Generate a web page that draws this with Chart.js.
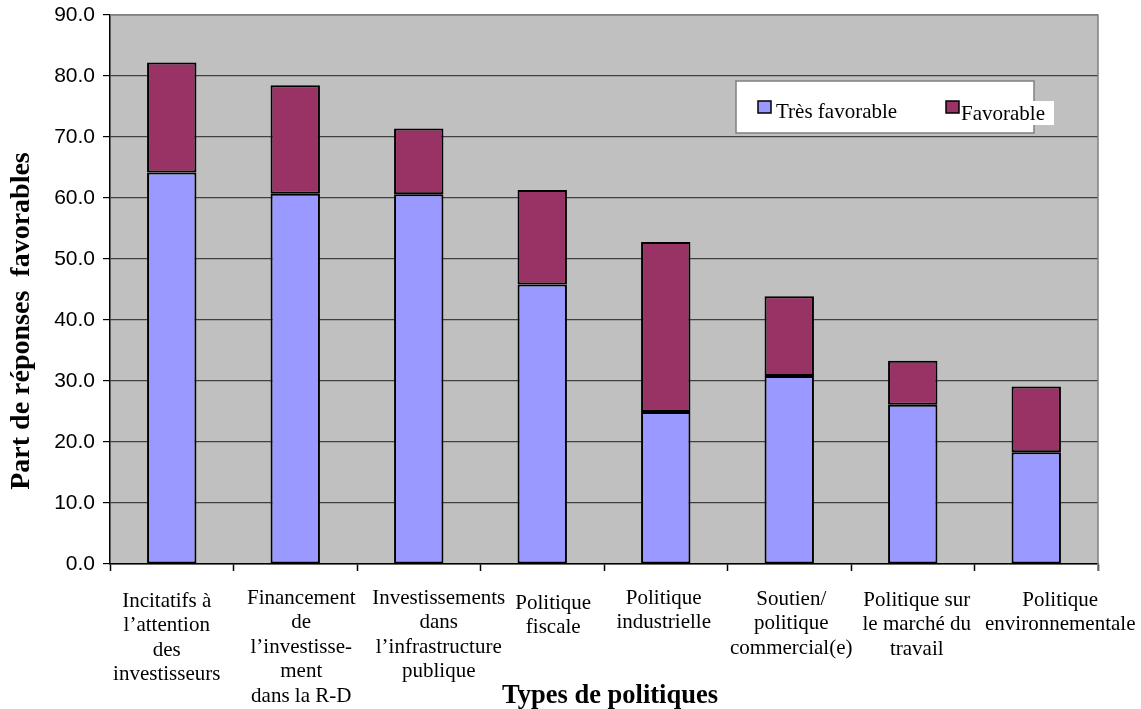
<!DOCTYPE html>
<html>
<head>
<meta charset="utf-8">
<script src="https://cdn.jsdelivr.net/npm/chart.js@4/dist/chart.umd.min.js"></script>
<style>
  html, body { margin: 0; padding: 0; background: #ffffff; }
  #wrap { width: 1141px; height: 709px; position: relative; }
</style>
</head>
<body>
<div id="wrap"><canvas id="chart" width="1141" height="709"></canvas></div>
<script>
// Types de politiques (multi-line axis labels)
const categories = [
  ["Incitatifs à", "l’attention", "des", "investisseurs"],
  ["Financement", "de", "l’investisse-", "ment", "dans la R-D"],
  ["Investissements", "dans", "l’infrastructure", "publique"],
  ["Politique", "fiscale"],
  ["Politique", "industrielle"],
  ["Soutien/", "politique", "commercial(e)"],
  ["Politique sur", "le marché du", "travail"],
  ["Politique", "environnementale"]
];

// Part des réponses (%)
const tresFavorable = [64.2, 60.7, 60.6, 45.8, 24.9, 30.8, 26.1, 18.3];
const favorable     = [18.0, 17.8, 10.8, 15.5, 27.9, 13.1,  7.2, 10.8];

const seriesLabels = ["Très favorable", "Favorable"];
const yTicks = [0, 10, 20, 30, 40, 50, 60, 70, 80, 90];
const xTitle = "Types de politiques";
const yTitle = "Part de réponses  favorables";

// Hand placement of the category text blocks (pixels from the category centre)
const labelShiftX = [-5, 6, 20, 11, -2, 2, 4, 24];
const labelShiftY = [2, -1, -1, 4, -1, 0, 1, 1];

const SERIF = "'Times New Roman', 'Liberation Serif', serif";
const SANS = "Arial, 'Liberation Sans', sans-serif";

// Gray plotting area plus the light frame on the top and right sides
const plotBackground = {
  id: 'plotBackground',
  beforeDraw(chart) {
    const { ctx, chartArea: a } = chart;
    ctx.save();
    ctx.fillStyle = '#c0c0c0';
    ctx.fillRect(a.left, a.top, a.right - a.left, a.bottom - a.top);
    ctx.restore();
  },
  afterDatasetsDraw(chart) {
    const { ctx, chartArea: a } = chart;
    ctx.save();
    ctx.strokeStyle = '#808080';
    ctx.lineWidth = 1.5;
    ctx.beginPath();
    ctx.moveTo(a.left, a.top);
    ctx.lineTo(a.right, a.top);
    ctx.lineTo(a.right, a.bottom + 7);
    ctx.stroke();
    ctx.restore();
  }
};

// Category labels and axis titles
const axisText = {
  id: 'axisText',
  afterDraw(chart) {
    const { ctx } = chart;
    const xs = chart.scales.x;
    ctx.save();
    ctx.fillStyle = '#000000';
    ctx.textAlign = 'center';
    ctx.textBaseline = 'alphabetic';
    ctx.font = '21px ' + SERIF;
    chart.data.labels.forEach((lines, i) => {
      const cx = xs.getPixelForValue(i) + labelShiftX[i];
      const y0 = 604.5 + labelShiftY[i];
      lines.forEach((line, j) => ctx.fillText(line, cx, y0 + j * 24.5));
    });

    ctx.font = 'bold 26.5px ' + SERIF;
    ctx.fillText(xTitle, 610, 703);

    ctx.translate(22, 321);
    ctx.rotate(-Math.PI / 2);
    ctx.font = 'bold 28px ' + SERIF;
    ctx.textBaseline = 'middle';
    ctx.fillText(yTitle, 0, 0);
    ctx.restore();
  }
};

// Boxed legend inside the plot area
const boxedLegend = {
  id: 'boxedLegend',
  afterDraw(chart) {
    const { ctx } = chart;
    const ds = chart.data.datasets;
    ctx.save();
    ctx.fillStyle = '#ffffff';
    ctx.fillRect(736, 81, 298, 52);
    ctx.strokeStyle = '#808080';
    ctx.lineWidth = 1.5;
    ctx.strokeRect(736, 81, 298, 52);
    // white patch behind the second label
    ctx.fillStyle = '#ffffff';
    ctx.fillRect(960, 101, 94, 24);

    const items = [
      { x: 758, y: 101, tx: 776, ty: 117.5 },
      { x: 946, y: 101, tx: 961, ty: 120 }
    ];
    ctx.font = '21px ' + SERIF;
    ctx.textBaseline = 'alphabetic';
    ctx.textAlign = 'left';
    items.forEach((it, i) => {
      ctx.fillStyle = ds[i].backgroundColor;
      ctx.fillRect(it.x, it.y, 13, 12);
      ctx.strokeStyle = '#000000';
      ctx.lineWidth = 1.5;
      ctx.strokeRect(it.x, it.y, 13, 12);
      ctx.fillStyle = '#000000';
      ctx.fillText(ds[i].label, it.tx, it.ty);
    });
    ctx.restore();
  }
};

new Chart(document.getElementById('chart'), {
  type: 'bar',
  data: {
    labels: categories,
    datasets: [
      {
        label: seriesLabels[0],
        data: tresFavorable,
        backgroundColor: '#9999ff',
        borderColor: '#000000',
        borderWidth: 2,
        borderSkipped: false
      },
      {
        label: seriesLabels[1],
        data: favorable,
        backgroundColor: '#993366',
        borderColor: '#000000',
        borderWidth: 2,
        borderSkipped: false
      }
    ]
  },
  options: {
    responsive: false,
    animation: false,
    devicePixelRatio: 1,
    layout: { padding: { left: 0, right: 43, top: 15, bottom: 0 } },
    plugins: {
      legend: { display: false },
      tooltip: { enabled: false }
    },
    datasets: { bar: { categoryPercentage: 1.0, barPercentage: 0.4 } },
    scales: {
      x: {
        stacked: true,
        afterFit(scale) { scale.height = 145; },
        grid: {
          offset: true,
          drawOnChartArea: false,
          drawTicks: true,
          tickLength: 7,
          tickColor: '#000000',
          tickWidth: 1.5
        },
        border: { display: true, color: '#000000', width: 1.5 },
        ticks: { display: false, autoSkip: false }
      },
      y: {
        stacked: true,
        min: 0,
        max: 90,
        afterFit(scale) {
          scale.width = 110;
          scale.paddingTop = 0;
          scale.paddingBottom = 0;
        },
        afterBuildTicks(scale) { scale.ticks = yTicks.map(v => ({ value: v })); },
        grid: {
          color: ctx => (ctx.tick && ctx.tick.value === 90 ? '#808080' : '#404040'),
          lineWidth: 1.2,
          drawTicks: true,
          tickLength: 7,
          tickColor: '#000000',
          tickWidth: 1.2
        },
        border: { display: true, color: '#000000', width: 1.5 },
        ticks: {
          color: '#000000',
          padding: 8,
          font: { family: SANS, size: 21 },
          callback: v => Number(v).toFixed(1)
        }
      }
    }
  },
  plugins: [plotBackground, axisText, boxedLegend]
});
</script>
</body>
</html>
